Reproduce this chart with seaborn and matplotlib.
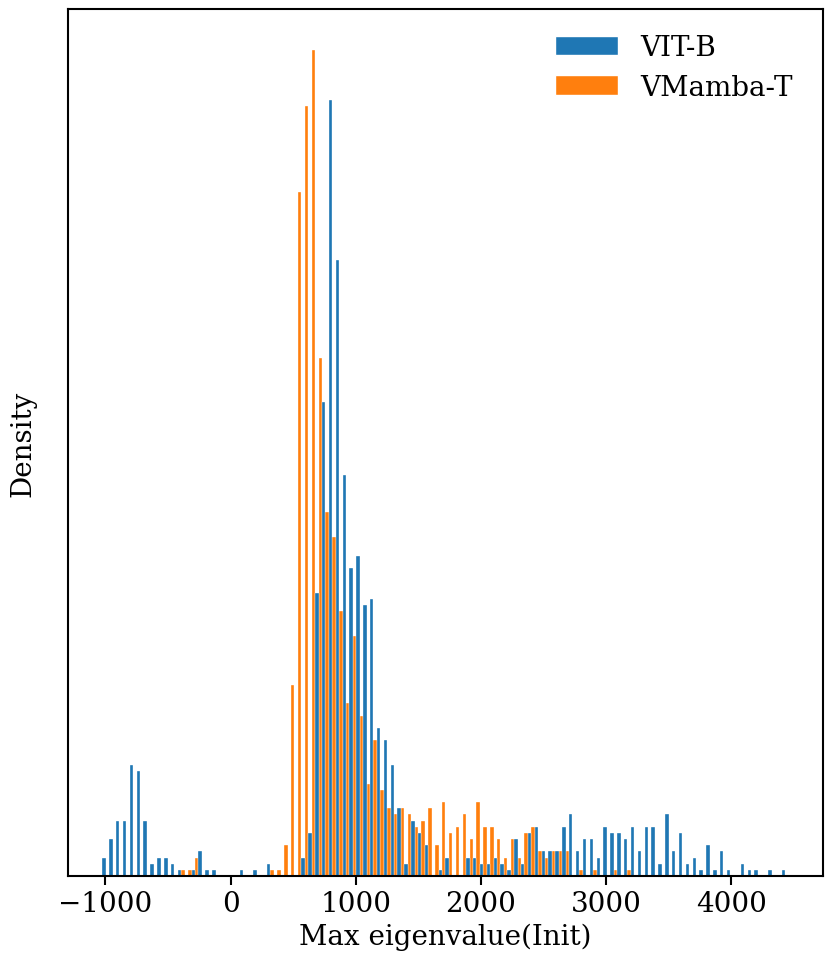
import numpy as np
import pandas as pd
import seaborn as sns
import matplotlib
matplotlib.use("Agg")
import matplotlib.pyplot as plt

# bin layout of the histogram (100 equal bins)
bin_lo, bin_hi, n_bins = -1025, 4457, 100

# counts per bin
vit_counts = [3, 6, 9, 9, 18, 17, 9, 2, 3, 3,
              2, 1, 0, 1, 4, 1, 1, 0, 0, 0,
              1, 0, 1, 0, 2, 0, 0, 0, 0, 3,
              7, 46, 77, 126, 100, 65, 50, 52, 44, 45,
              24, 22, 18, 11, 2, 9, 7, 5, 0, 1,
              3, 0, 0, 3, 3, 2, 2, 3, 2, 1,
              6, 2, 7, 8, 4, 4, 4, 8, 10, 4,
              6, 6, 3, 8, 7, 7, 6, 8, 4, 8,
              8, 2, 10, 4, 7, 2, 3, 1, 5, 1,
              4, 1, 0, 2, 1, 1, 0, 1, 0, 1]
vmamba_counts = [0, 0, 0, 0, 0, 0, 0, 0, 0, 0,
                 0, 1, 1, 3, 0, 0, 0, 0, 0, 0,
                 0, 0, 0, 0, 1, 1, 5, 31, 111, 125,
                 134, 84, 59, 55, 43, 28, 39, 26, 15, 22,
                 14, 11, 10, 11, 10, 8, 9, 11, 5, 12,
                 7, 8, 10, 6, 12, 8, 8, 6, 3, 6,
                 3, 7, 8, 4, 3, 4, 4, 4, 0, 1,
                 0, 1, 0, 0, 1, 0, 1, 0, 0, 0,
                 0, 0, 0, 0, 0, 0, 0, 0, 0, 0,
                 0, 0, 0, 0, 0, 0, 0, 0, 0, 0]
models = ["VIT-B", "VMamba-T"]
colors = ["#1f77b4", "#ff7f0e"]

width = (bin_hi - bin_lo) / n_bins
centers = bin_lo + width * (np.arange(n_bins) + 0.5)

df = pd.DataFrame({
    "value": np.concatenate([centers, centers]),
    "count": vit_counts + vmamba_counts,
    "model": [models[0]] * n_bins + [models[1]] * n_bins,
})

sns.set_style("ticks")
plt.rcParams["font.family"] = ["DejaVu Serif"]
plt.rcParams["mathtext.fontset"] = "dejavuserif"
for k in ["text.color", "axes.labelcolor", "xtick.color", "ytick.color", "axes.edgecolor"]:
    plt.rcParams[k] = "black"

fig, ax = plt.subplots(figsize=(8.31, 9.78), dpi=100)
fig.subplots_adjust(left=68 / 831, right=823 / 831, top=1 - 10 / 978, bottom=1 - 877 / 978)

sns.histplot(data=df, x="value", weights="count", hue="model", hue_order=models,
             bins=n_bins, binrange=(bin_lo, bin_hi), multiple="dodge", stat="density",
             palette=colors, alpha=1, ax=ax)

ax.set_yticks([])
ax.set_xticks([-1000, 0, 1000, 2000, 3000, 4000])
ax.tick_params(axis="x", labelsize=20, width=1.5, length=6.5)
for s in ax.spines.values():
    s.set_linewidth(1.5)
ax.set_xlabel("Max eigenvalue(Init)", fontsize=20)
ax.set_ylabel("Density", fontsize=20, labelpad=23)

sns.move_legend(ax, "upper right", bbox_to_anchor=(0.993, 1.0), frameon=False,
                title=None, fontsize=20, handlelength=2.25, labelspacing=0.45)

fig.savefig("out.png", dpi=100)
